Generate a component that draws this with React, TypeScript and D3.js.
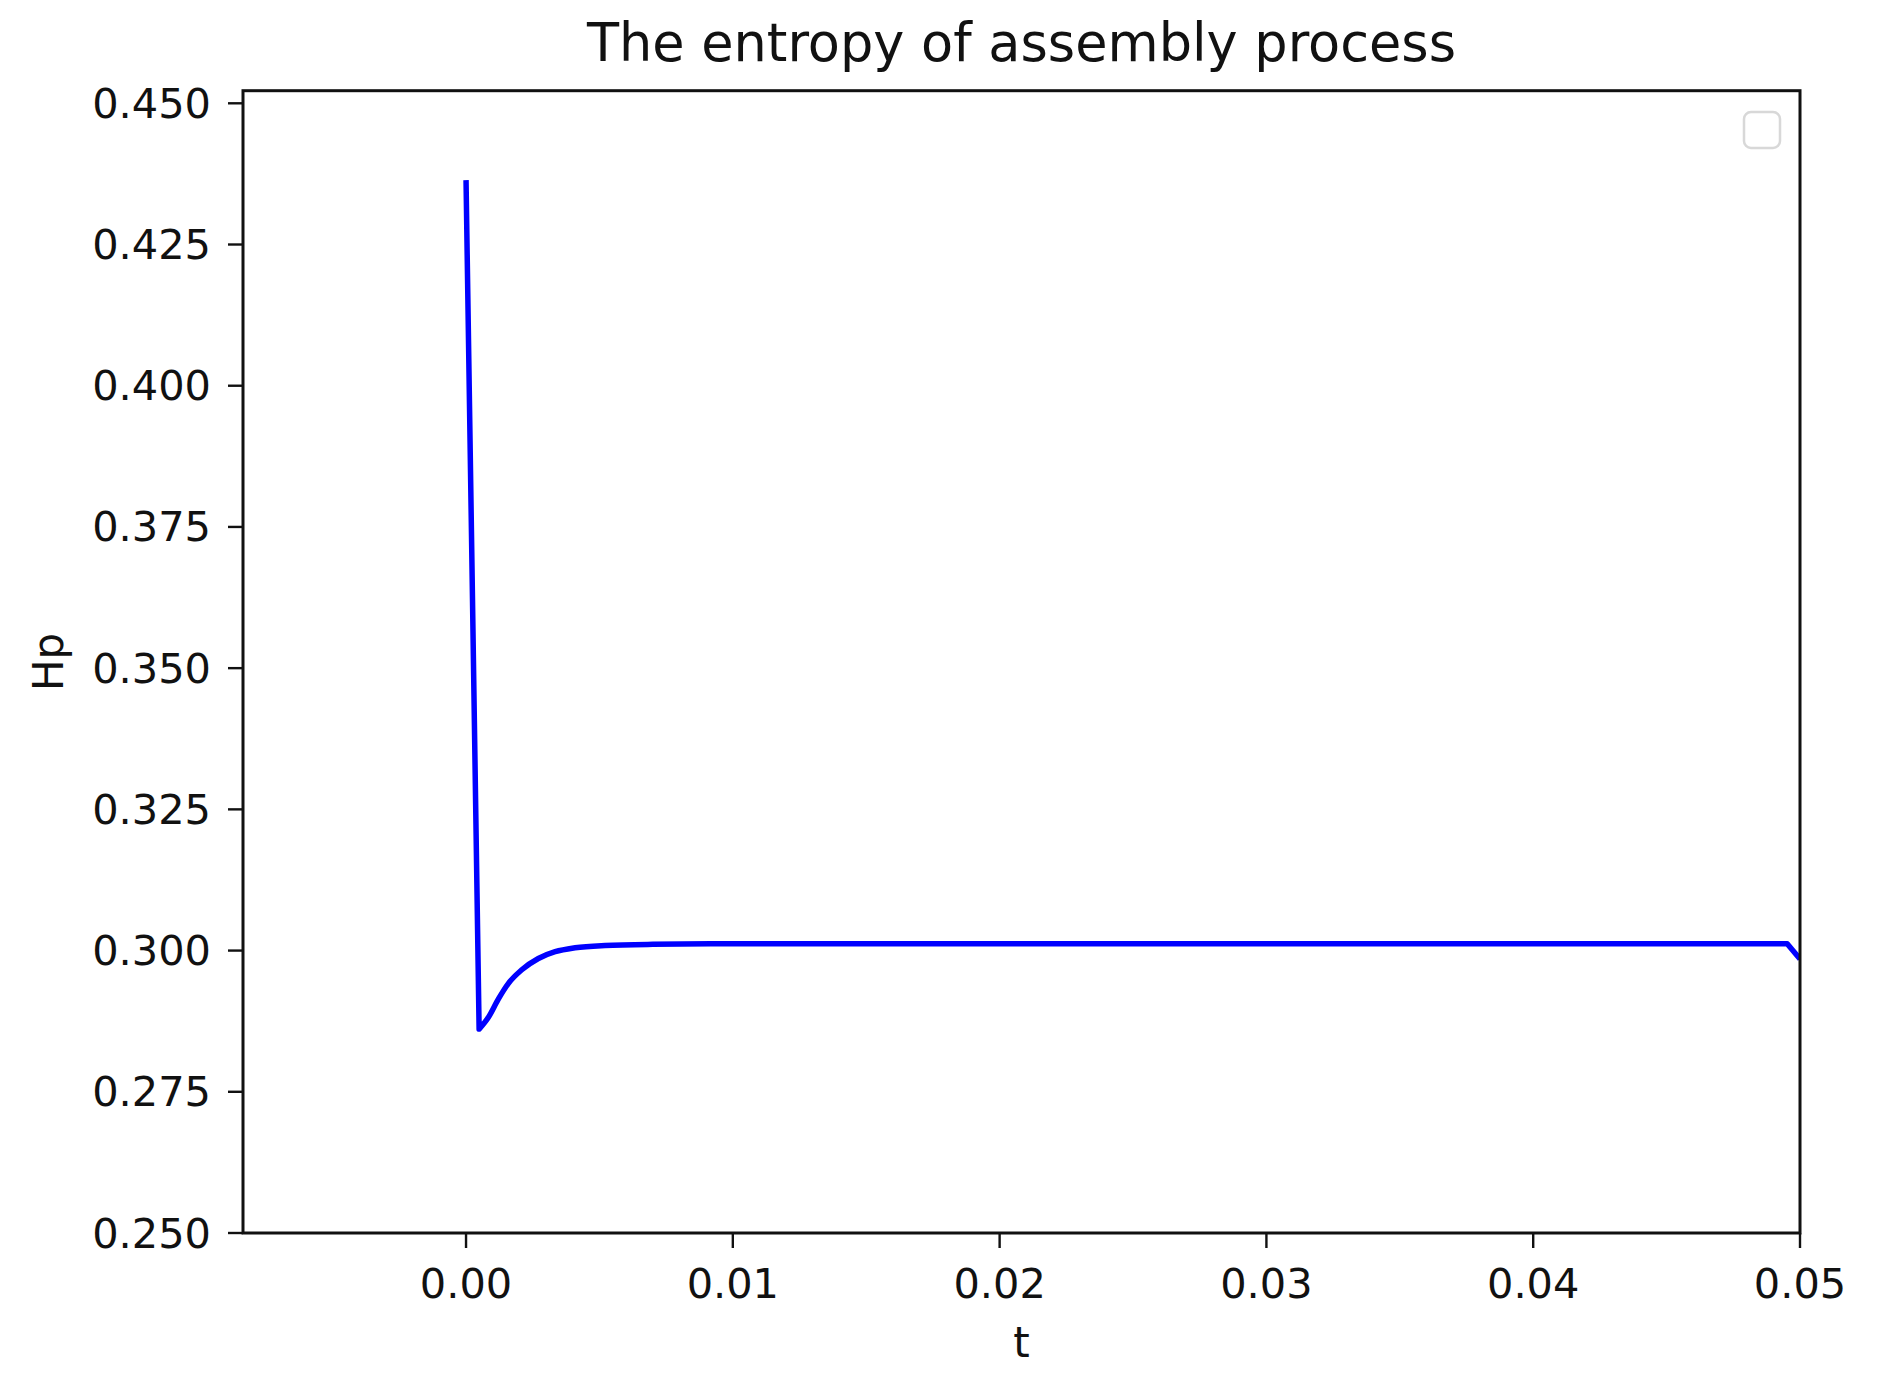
import React from "react";
import * as d3 from "d3";

const tValues = [0, 0.00049, 0.00084, 0.00121, 0.00159, 0.00209, 0.00271, 0.00334, 0.00409, 0.00521, 0.007, 0.01, 0.02, 0.03, 0.04, 0.04952, 0.05];
const hpValues = [0.4364, 0.2861, 0.2882, 0.2914, 0.2942, 0.2966, 0.2986, 0.2998, 0.3005, 0.3009, 0.3011, 0.3012, 0.3012, 0.3012, 0.3012, 0.3012, 0.2985];
const xTicks = [0, 0.01, 0.02, 0.03, 0.04, 0.05];
const yTicks = [0.25, 0.275, 0.3, 0.325, 0.35, 0.375, 0.4, 0.425, 0.45];
const titleText = "The entropy of assembly process";
const xLabel = "t";
const yLabel = "Hp";

const W = 1877;
const H = 1380;
const left = 243;
const right = 1800;
const top = 90.7;
const bottom = 1233;
const font = "'DejaVu Sans', sans-serif";

export default function App() {
  const x = d3.scaleLinear().domain([-0.00836, 0.05]).range([left, right]);
  const y = d3.scaleLinear().domain([0.25, 0.45223]).range([bottom, top]);
  const pts: [number, number][] = tValues.map((t, i) => [t, hpValues[i]]);
  const n = pts.length;
  const straight = d3
    .line<[number, number]>()
    .x((d) => x(d[0]))
    .y((d) => y(d[1]))
    .curve(d3.curveLinear);
  const smooth = d3
    .line<[number, number]>()
    .x((d) => x(d[0]))
    .y((d) => y(d[1]))
    .curve(d3.curveMonotoneX);
  const dPath =
    (straight(pts.slice(0, 2)) || "") +
    (smooth(pts.slice(1, n - 1)) || "").replace(/^M/, "L") +
    (straight(pts.slice(n - 2)) || "").replace(/^M/, "L");
  const tickLen = 15;
  return (
    <svg
      width={W}
      height={H}
      style={{ position: "absolute", left: 0, top: 0, background: "#fff" }}
      fontFamily={font}
    >
      <rect x={0} y={0} width={W} height={H} fill="#fff" />
      <defs>
        <clipPath id="plotclip">
          <rect x={left} y={top} width={right - left} height={bottom - top} />
        </clipPath>
      </defs>
      <path
        d={dPath}
        fill="none"
        stroke="#0000ff"
        strokeWidth={5.5}
        strokeLinejoin="round"
        clipPath="url(#plotclip)"
      />
      {/* legend (empty) */}
      <rect x={1744} y={112} width={36} height={36} rx={7} fill="#fff" stroke="#d8d8d8" strokeWidth={2.5} />
      {/* spines */}
      <rect x={left} y={top} width={right - left} height={bottom - top} fill="none" stroke="#111" strokeWidth={3} />
      {/* x ticks */}
      {xTicks.map((t) => (
        <g key={"x" + t}>
          <line x1={x(t)} x2={x(t)} y1={bottom} y2={bottom + tickLen} stroke="#111" strokeWidth={2.4} />
          <text x={x(t)} y={1298} textAnchor="middle" fontSize={41.5} fill="#111">
            {t.toFixed(2)}
          </text>
        </g>
      ))}
      {/* y ticks */}
      {yTicks.map((v) => (
        <g key={"y" + v}>
          <line x1={left - tickLen} x2={left} y1={y(v)} y2={y(v)} stroke="#111" strokeWidth={2.4} />
          <text x={left - tickLen - 17} y={y(v)} textAnchor="end" dominantBaseline="central" fontSize={41.5} fill="#111">
            {v.toFixed(3)}
          </text>
        </g>
      ))}
      <text x={(left + right) / 2} y={61} textAnchor="middle" fontSize={52.5} fill="#111">
        {titleText}
      </text>
      <text x={(left + right) / 2} y={1357} textAnchor="middle" fontSize={42} fill="#111">
        {xLabel}
      </text>
      <text transform={`translate(63, ${(top + bottom) / 2}) rotate(-90)`} textAnchor="middle" fontSize={42} fill="#111">
        {yLabel}
      </text>
    </svg>
  );
}
